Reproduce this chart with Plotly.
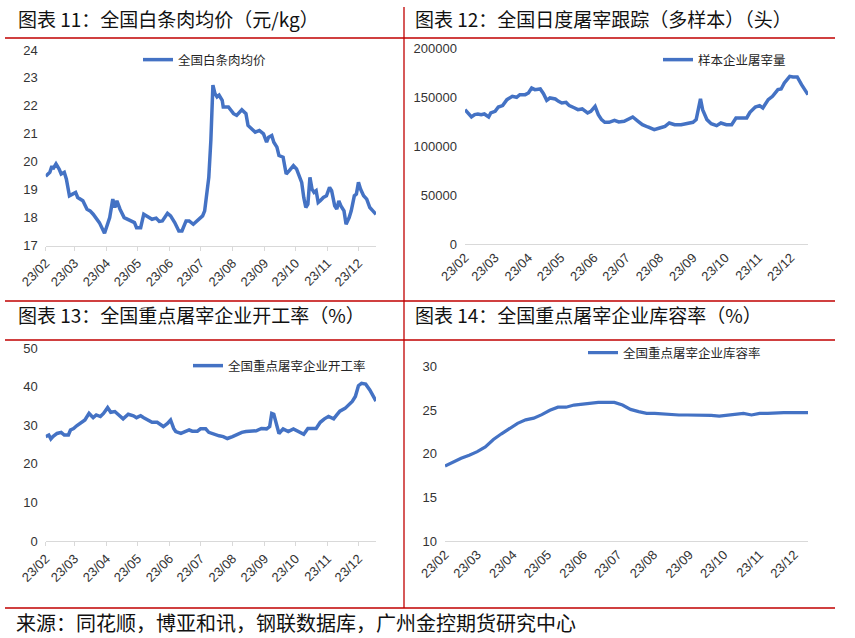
import plotly.graph_objects as go

# ---------------- data ----------------
p1_dates = ["2023-02-01","2023-02-05","2023-02-07","2023-02-08","2023-02-11","2023-02-14","2023-02-16","2023-02-19","2023-02-21","2023-02-24","2023-02-27",
            "2023-03-02","2023-03-04","2023-03-09","2023-03-13","2023-03-16","2023-03-19","2023-03-22","2023-03-25","2023-03-30",
            "2023-04-02","2023-04-04","2023-04-07","2023-04-09","2023-04-11","2023-04-14","2023-04-18","2023-04-25","2023-04-28","2023-04-30",
            "2023-05-04","2023-05-07","2023-05-10","2023-05-15","2023-05-19","2023-05-22","2023-05-25","2023-05-30",
            "2023-06-02","2023-06-06","2023-06-10","2023-06-13","2023-06-17","2023-06-20","2023-06-24","2023-06-28",
            "2023-07-03","2023-07-05","2023-07-08","2023-07-09","2023-07-11","2023-07-13","2023-07-15","2023-07-17","2023-07-19","2023-07-22","2023-07-23","2023-07-28",
            "2023-08-02","2023-08-05","2023-08-10","2023-08-14","2023-08-16","2023-08-19","2023-08-23","2023-08-27","2023-08-31",
            "2023-09-03","2023-09-05","2023-09-08","2023-09-10","2023-09-13","2023-09-15","2023-09-19","2023-09-22","2023-09-25","2023-09-29",
            "2023-10-02","2023-10-05","2023-10-07","2023-10-09","2023-10-11","2023-10-13","2023-10-15","2023-10-17","2023-10-19","2023-10-21","2023-10-23","2023-10-25","2023-10-28","2023-10-31",
            "2023-11-03","2023-11-05","2023-11-08","2023-11-10","2023-11-12","2023-11-14","2023-11-17","2023-11-19","2023-11-22","2023-11-24","2023-11-27","2023-11-29",
            "2023-12-01","2023-12-03","2023-12-06","2023-12-09","2023-12-12","2023-12-15","2023-12-18"]
p1_values = [19.48,19.62,19.84,19.74,19.92,19.74,19.56,19.62,19.38,18.78,18.84,
             18.90,18.72,18.60,18.30,18.24,18.12,17.94,17.82,17.44,
             17.82,18.00,18.66,18.36,18.60,18.30,18.00,17.88,17.82,17.64,
             17.64,18.12,18.06,17.94,17.98,17.86,17.88,18.15,
             18.06,17.82,17.52,17.52,17.88,17.88,17.76,17.88,
             18.06,18.24,19.32,19.44,20.76,22.74,22.44,22.32,22.38,22.20,21.96,21.96,
             21.72,21.66,21.86,21.72,21.30,21.18,21.06,21.12,21.00,
             20.70,20.88,20.94,20.70,20.52,20.22,20.16,19.56,19.68,19.86,
             19.74,19.44,19.26,18.72,18.36,18.48,19.44,19.02,18.90,18.96,18.54,18.60,18.72,18.78,
             19.08,18.96,18.42,18.30,18.60,18.42,18.24,17.76,18.00,18.24,18.78,18.84,
             19.26,19.02,18.78,18.66,18.36,18.24,18.12]

p2_dates = ["2023-02-01","2023-02-04","2023-02-07","2023-02-10","2023-02-13","2023-02-16","2023-02-19","2023-02-23","2023-02-25",
            "2023-03-01","2023-03-04","2023-03-08","2023-03-12","2023-03-17","2023-03-21","2023-03-24","2023-03-29",
            "2023-04-01","2023-04-04","2023-04-07","2023-04-12","2023-04-15","2023-04-18","2023-04-21","2023-04-26","2023-04-29",
            "2023-05-02","2023-05-06","2023-05-09","2023-05-14","2023-05-17","2023-05-21","2023-05-26","2023-05-29",
            "2023-06-02","2023-06-05","2023-06-08","2023-06-11","2023-06-15","2023-06-20","2023-06-24","2023-06-29",
            "2023-07-04","2023-07-07","2023-07-12","2023-07-16","2023-07-21","2023-07-27",
            "2023-08-01","2023-08-06","2023-08-10","2023-08-15","2023-08-21","2023-08-27",
            "2023-09-01","2023-09-04","2023-09-07","2023-09-08","2023-09-10","2023-09-14","2023-09-18","2023-09-23","2023-09-27",
            "2023-10-02","2023-10-07","2023-10-11","2023-10-16","2023-10-21","2023-10-24","2023-10-29",
            "2023-11-02","2023-11-05","2023-11-10","2023-11-14","2023-11-19","2023-11-22","2023-11-25","2023-11-30",
            "2023-12-03","2023-12-07","2023-12-11","2023-12-17"]
p2_values = [137100,133700,129600,132000,132700,132000,132700,129600,133700,
             135400,139800,141200,147300,150700,149700,152400,152400,
             154100,159200,157500,158200,153400,146600,149000,148000,145600,
             143900,144500,141200,138800,137100,137800,133700,135400,
             140500,132000,126900,124200,124200,126200,124500,125200,
             128600,129600,125200,121800,119400,116700,
             118400,120100,123500,121800,121800,123500,
             124200,126900,143900,148000,137100,126900,122800,120800,123500,
             121800,121800,128600,128600,128600,134400,139800,
             141200,138800,147300,150700,157500,158200,164300,171100,
             170400,170400,162600,152400]

p3_dates = ["2023-02-01","2023-02-04","2023-02-06","2023-02-08","2023-02-12","2023-02-16","2023-02-19","2023-02-23","2023-02-25","2023-02-28",
            "2023-03-03","2023-03-08","2023-03-11","2023-03-15","2023-03-19","2023-03-22","2023-03-26","2023-03-29",
            "2023-04-02","2023-04-05","2023-04-09","2023-04-12","2023-04-17","2023-04-22","2023-04-27","2023-04-30",
            "2023-05-04","2023-05-07","2023-05-12","2023-05-15","2023-05-20","2023-05-23","2023-05-26","2023-05-30",
            "2023-06-02","2023-06-05","2023-06-07","2023-06-12","2023-06-17","2023-06-20","2023-06-23","2023-06-28",
            "2023-07-01","2023-07-06","2023-07-09","2023-07-14","2023-07-19","2023-07-23","2023-07-27",
            "2023-08-01","2023-08-06","2023-08-10","2023-08-14","2023-08-19","2023-08-24","2023-08-29",
            "2023-09-03","2023-09-06","2023-09-08","2023-09-10","2023-09-12","2023-09-15","2023-09-19","2023-09-24","2023-09-29",
            "2023-10-04","2023-10-09","2023-10-13","2023-10-18","2023-10-21","2023-10-25","2023-10-29",
            "2023-11-02","2023-11-07","2023-11-10","2023-11-13","2023-11-18","2023-11-22","2023-11-25","2023-11-28",
            "2023-12-01","2023-12-04","2023-12-08","2023-12-12","2023-12-15","2023-12-18"]
p3_values = [27.1,27.5,26.5,27.1,27.9,28.2,27.5,27.5,28.8,29.2,
             29.9,30.8,31.4,33.1,32.0,32.7,32.3,33.1,
             34.6,33.4,33.6,32.9,31.7,32.9,32.5,32.0,
             32.5,32.0,31.4,30.8,30.8,30.1,29.7,30.5,
             31.4,29.2,28.4,27.9,28.4,28.8,28.5,28.5,
             29.1,29.1,28.2,27.7,27.3,27.1,26.6,
             27.1,27.7,28.2,28.4,28.5,28.6,29.2,
             29.1,29.7,33.1,32.9,30.5,27.9,29.1,28.4,29.1,
             28.4,27.7,29.2,29.1,29.2,30.8,31.7,
             32.3,31.7,32.7,33.7,34.4,35.3,36.2,37.5,
             40.3,40.9,40.7,39.2,37.9,36.3]

p4_dates = ["2023-02-01","2023-02-08","2023-02-15","2023-02-22","2023-03-01","2023-03-08","2023-03-15","2023-03-22","2023-03-29",
            "2023-04-05","2023-04-12","2023-04-19","2023-04-26","2023-05-03","2023-05-10","2023-05-17","2023-05-24","2023-05-31",
            "2023-06-07","2023-06-14","2023-06-21","2023-06-28","2023-07-05","2023-07-12","2023-07-19","2023-07-26",
            "2023-08-02","2023-08-09","2023-08-16","2023-08-23","2023-08-30","2023-09-06","2023-09-13","2023-09-20","2023-09-27",
            "2023-10-04","2023-10-11","2023-10-18","2023-10-25","2023-11-01","2023-11-08","2023-11-15","2023-11-22","2023-11-29",
            "2023-12-06","2023-12-13"]
p4_values = [18.6,19.1,19.5,19.85,20.25,20.8,21.65,22.3,22.9,
             23.5,23.9,24.1,24.5,25.0,25.35,25.35,25.6,25.7,
             25.8,25.9,25.9,25.9,25.6,25.1,24.85,24.65,
             24.65,24.57,24.5,24.46,24.46,24.46,24.46,24.42,24.34,
             24.42,24.54,24.65,24.46,24.65,24.65,24.73,24.73,24.73,
             24.73,24.73]

titles = ["图表 11：全国白条肉均价（元/kg）", "图表 12：全国日度屠宰跟踪（多样本）（头）",
          "图表 13：全国重点屠宰企业开工率（%）", "图表 14：全国重点屠宰企业库容率（%）"]
series_names = ["全国白条肉均价", "样本企业屠宰量", "全国重点屠宰企业开工率", "全国重点屠宰企业库容率"]
source_text = "来源：同花顺，博亚和讯，钢联数据库，广州金控期货研究中心"

# ---------------- figure ----------------
W, H = 855, 638
BLUE = "#4472C4"
RED = "#C00000"
CJK = "Noto Sans CJK SC"
NUM = "Liberation Sans, Arial, sans-serif"

def px_x(v):
    return v / W

def px_y(v):
    return 1 - v / H

fig = go.Figure()
data = [(p1_dates, p1_values, 3.5), (p2_dates, p2_values, 3.5), (p3_dates, p3_values, 3.5), (p4_dates, p4_values, 3.2)]
for i, (d, v, lw) in enumerate(data):
    k = "" if i == 0 else str(i + 1)
    fig.add_trace(go.Scatter(x=d, y=v, mode="lines", name=series_names[i],
                             line=dict(color=BLUE, width=lw),
                             xaxis="x" + k, yaxis="y" + k, legend="legend" + k))

xcommon = dict(type="date", tickformat="%y/%m", dtick="M1", tick0="2023-02-01", tickangle=-45,
               showline=True, linecolor="#d9d9d9", linewidth=1, showgrid=False, zeroline=False,
               tickfont=dict(family=NUM, size=13, color="#333333"), fixedrange=True, automargin=False)
ycommon = dict(showline=False, showgrid=False, zeroline=False, ticks="",
               tickfont=dict(family=NUM, size=13, color="#333333"), ticklabelstandoff=7, automargin=False)

# panel geometry (pixels)
pan = [
    dict(x0=45.7, x1=376, y0=245.5, y1=50, xr=["2023-02-01", "2023-12-18"], yr=[17, 24], dt=1, ticks=True),
    dict(x0=465, x1=808, y0=244, y1=48, xr=["2023-02-01", "2023-12-17"], yr=[0, 200000], dt=50000, ticks=False),
    dict(x0=45.7, x1=376, y0=541, y1=348.3, xr=["2023-02-01", "2023-12-18"], yr=[0, 50], dt=10, ticks=True),
    dict(x0=445, x1=808, y0=541, y1=366.7, xr=["2023-02-01", "2023-12-13"], yr=[10, 30], dt=5, ticks=False),
]
layout = {}
for i, p in enumerate(pan):
    k = "" if i == 0 else str(i + 1)
    xa = dict(xcommon, domain=[px_x(p["x0"]), px_x(p["x1"])], range=p["xr"], anchor="y" + k)
    if p["ticks"]:
        xa.update(ticks="outside", ticklen=4, tickcolor="#d9d9d9")
    else:
        xa.update(ticks="")
    ya = dict(ycommon, domain=[px_y(p["y0"]), px_y(p["y1"])], range=p["yr"], dtick=p["dt"],
              anchor="x" + k, tickformat="d")
    layout["xaxis" + k] = xa
    layout["yaxis" + k] = ya

leg_pos = [(138, 60), (658, 60), (188, 366), (583, 353)]
for i, (lx, ly) in enumerate(leg_pos):
    k = "" if i == 0 else str(i + 1)
    layout["legend" + k] = dict(x=px_x(lx), y=px_y(ly), xanchor="left", yanchor="middle",
                                bgcolor="rgba(0,0,0,0)", borderwidth=0,
                                font=dict(family=CJK, size=12.5, color="#262626"))

fig.update_layout(width=W, height=H, margin=dict(l=0, r=0, t=0, b=0, autoexpand=False),
                  paper_bgcolor="white", plot_bgcolor="white", showlegend=True, **layout)

# titles
title_pos = [(16, 19), (413, 19), (16, 314), (413, 314)]
for t, (tx, ty) in zip(titles, title_pos):
    fig.add_annotation(text=t, xref="paper", yref="paper", x=px_x(tx), y=px_y(ty),
                       xanchor="left", yanchor="middle", showarrow=False,
                       font=dict(family=CJK, size=19, color="#111111"))
fig.add_annotation(text=source_text, xref="paper", yref="paper", x=px_x(14), y=px_y(622),
                   xanchor="left", yanchor="middle", showarrow=False,
                   font=dict(family=CJK, size=20, color="#111111"))

# red separator lines
for yy in (38, 301, 340, 608):
    fig.add_shape(type="line", xref="paper", yref="paper", x0=px_x(5), x1=px_x(835),
                  y0=px_y(yy), y1=px_y(yy), line=dict(color=RED, width=1.3))
fig.add_shape(type="line", xref="paper", yref="paper", x0=px_x(404), x1=px_x(404),
              y0=px_y(7), y1=px_y(608), line=dict(color=RED, width=1.3))

fig.write_html("out.html")
